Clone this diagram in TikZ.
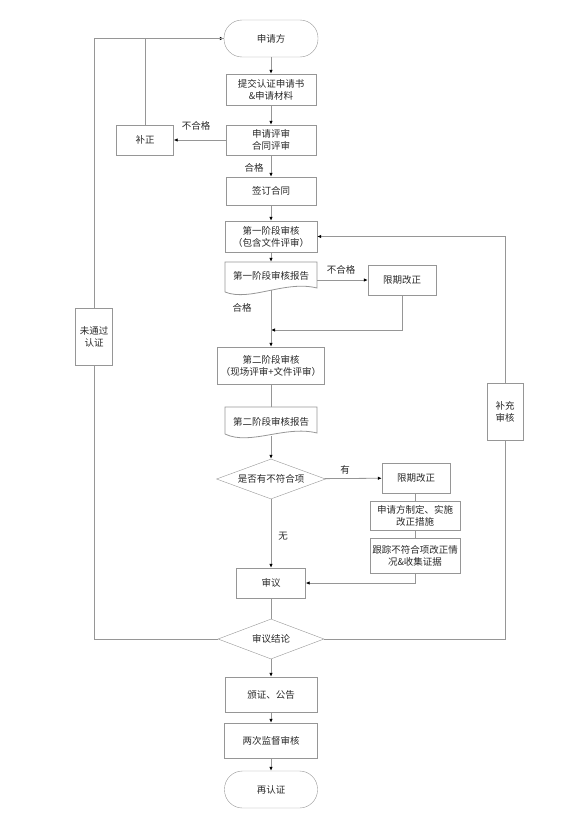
\documentclass[tikz,border=0pt]{standalone}
\usepackage{fontspec}
\usepackage{tikz}
\usetikzlibrary{arrows.meta,shapes.geometric}
\newfontfamily\cjk{Noto Sans CJK SC}
\definecolor{linegray}{RGB}{150,150,150}
\definecolor{textgray}{RGB}{40,40,40}
\tikzset{
  box/.style={draw=linegray, font=\cjk\fontsize{9.5}{12}\selectfont, text=textgray, align=center, inner sep=1pt},
  term/.style={box, rounded corners=18pt},
  doc/.style={font=\cjk\fontsize{9.5}{12}\selectfont, text=textgray, align=center, inner sep=1pt},
  dec/.style={box, shape=diamond, inner sep=0pt, shape aspect=2.7},
  lbl/.style={font=\cjk\fontsize{9.5}{12}\selectfont, text=textgray},
  line/.style={draw=linegray, line width=0.8pt},
  arr/.style={line, -{Latex[length=4pt,width=3.5pt,color=black]}}
}
\begin{document}
\begin{tikzpicture}[x=1pt,y=-1pt]
        \useasboundingbox (0,0) rectangle (581,827);

        % main column
        \node[term, minimum width=94, minimum height=37] (apply) at (271,38.5) {申请方};
        \node[box, minimum width=90, minimum height=31] (submit) at (271,89.5) {提交认证申请书\\\&申请材料};
        \node[box, minimum width=90, minimum height=30] (review) at (271,140) {申请评审\\合同评审};
        \node[box, minimum width=57, minimum height=30] (patch) at (145,140) {补正};
        \node[box, minimum width=90, minimum height=28] (sign) at (271,191) {签订合同};
        \node[box, minimum width=92, minimum height=31] (stage1) at (271,236.5) {第一阶段审核\\（包含文件评审）};
        \node[doc, minimum width=92, minimum height=28] (rep1) at (271,276) {第一阶段审核报告};
        \node[box, minimum width=68, minimum height=30] (fix1) at (402,280) {限期改正};
        \coordinate (m1) at (271,330);
        \node[box, minimum width=107, minimum height=37] (stage2) at (271,365.5) {第二阶段审核\\（现场评审+文件评审）};
        \node[doc, minimum width=92, minimum height=29] (rep2) at (271,421.5) {第二阶段审核报告};
        \node[dec, minimum width=109, minimum height=40] (check) at (271,479) {是否有不符合项};
        \node[box, minimum width=68, minimum height=30] (fix2) at (416,478) {限期改正};
        \node[box, minimum width=90, minimum height=29] (plan) at (415,515.5) {申请方制定、实施\\改正措施};
        \node[box, minimum width=90, minimum height=35] (track) at (415,555.5) {跟踪不符合项改正情\\况\&收集证据};
        \node[box, minimum width=69, minimum height=30] (verdict) at (271,583) {审议};
        \node[dec, minimum width=106, minimum height=40] (concl) at (271,639) {审议结论};
        \node[box, minimum width=92, minimum height=35] (issue) at (271,694.5) {颁证、公告};
        \node[box, minimum width=93, minimum height=35] (audit) at (271,740.5) {两次监督审核};
        \node[term, minimum width=93, minimum height=37] (recert) at (271,789.5) {再认证};

        % side boxes
        \node[box, minimum width=37, minimum height=57] (fail) at (94,337) {未通过\\认证};
        \node[box, minimum width=36, minimum height=57] (supp) at (505,411.5) {补充\\审核};

        % document shapes
        \draw[line] (225,292) -- (225,262) -- (317,262) -- (317,288) .. controls (285,280) and (250,302) .. (225,292);
        \draw[line] (225,434) -- (225,407) -- (317,407) -- (317,433) .. controls (285,425) and (250,446) .. (225,434);

        % connectors
        \draw[arr] (apply) -- (submit);
        \draw[arr] (submit) -- (review);
        \draw[arr] (review) -- (sign);
        \draw[arr] (review) -- (patch);
        \draw[arr] (sign) -- (stage1);
        \draw[arr] (stage1) -- (rep1);
        \draw[arr] (rep1.east |- fix1.west) -- (fix1.west);
        \draw[arr] (fix1.south) |- (m1);
        \draw[arr] (rep1.south) -- (stage2.north);
        \draw[line] (stage2) -- (rep2);
        \draw[arr] (rep2.south) -- (check.north);
        \draw[arr] (check) -- (fix2);
        \draw[line] (fix2) -- (plan);
        \draw[line] (plan) -- (track);
        \draw[arr] (track.south) |- (verdict.east);
        \draw[arr] (check) -- (verdict);
        \draw[line] (verdict) -- (concl);
        \draw[arr] (concl) -- (issue);
        \draw[arr] (issue) -- (audit);
        \draw[arr] (audit) -- (recert);

        \draw[line] (concl.west) -| (fail.south);
        \draw[arr] (fail.north) |- (apply.west);
        \draw[line] (patch.north) |- (apply.west);
        \draw[line] (concl.east) -| (supp.south);
        \draw[arr] (supp.north) |- (stage1.east);

        % labels
        \node[lbl] (l1) at (196,126) {不合格};
        \node[lbl] (l2) at (254,168) {合格};
        \node[lbl] (l3) at (341,270) {不合格};
        \node[lbl] (l4) at (242,308) {合格};
        \node[lbl] (l5) at (345,470) {有};
        \node[lbl] (l6) at (283,536) {无};

    \end{tikzpicture}
\end{document}
